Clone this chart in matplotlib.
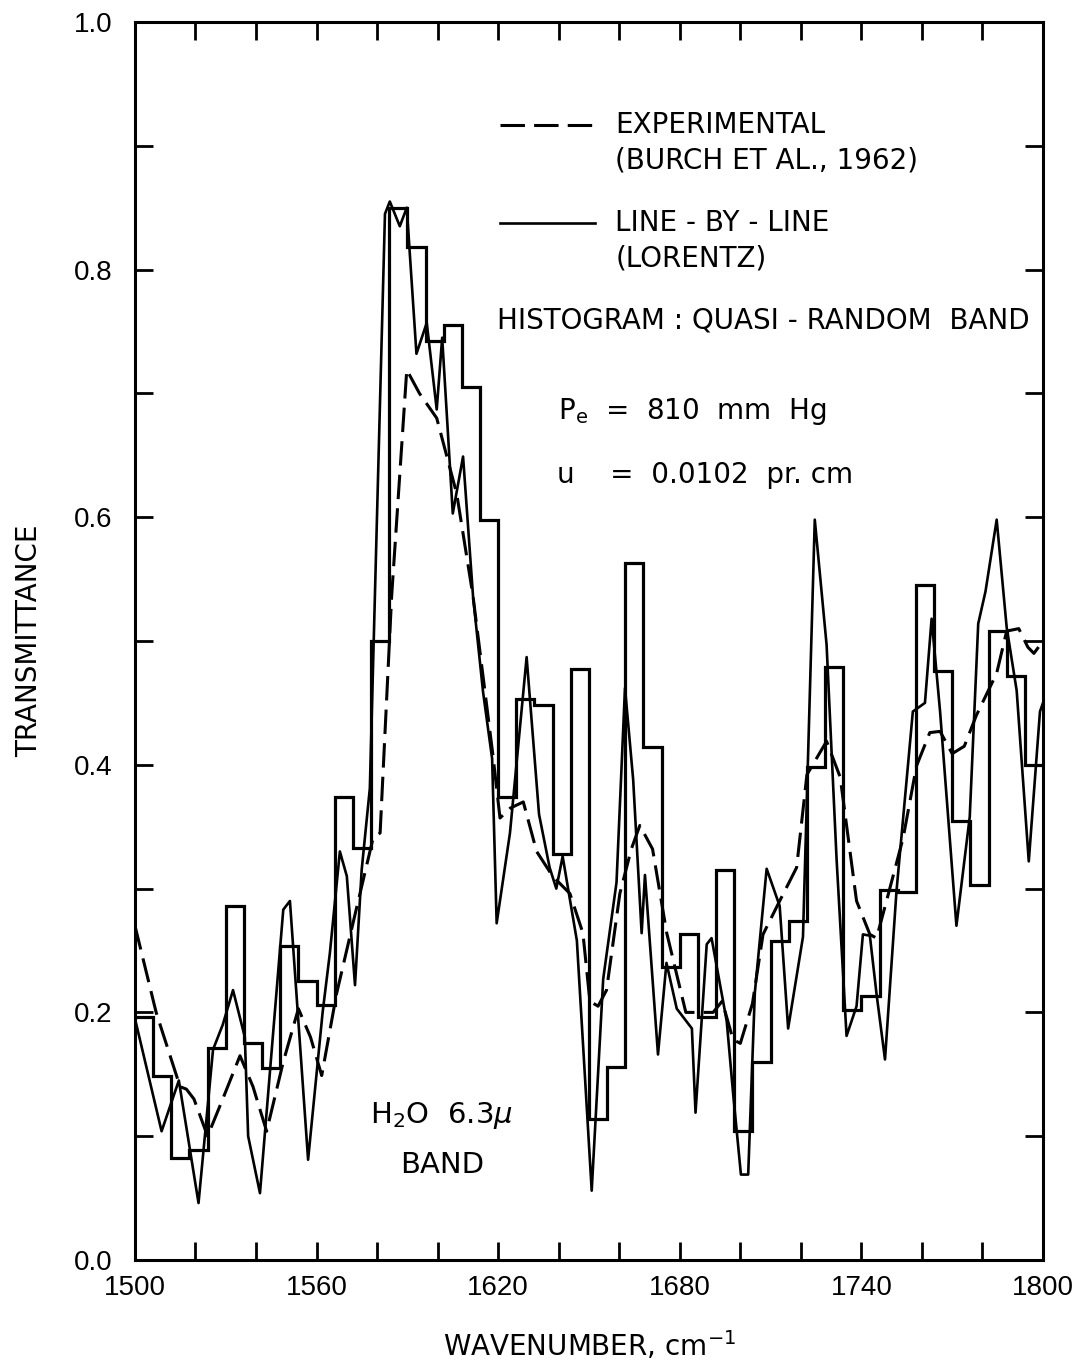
import numpy as np
import matplotlib
matplotlib.use("Agg")
import matplotlib.pyplot as plt

# histogram: quasi-random band model, 6 cm-1 intervals
hist_edges = np.arange(1500, 1801, 6)
hist_vals = [0.196, 0.149, 0.082, 0.089, 0.171, 0.286, 0.175, 0.155, 0.254, 0.225,
             0.206, 0.374, 0.333, 0.500, 0.850, 0.818, 0.742, 0.755, 0.705, 0.598,
             0.374, 0.453, 0.448, 0.328, 0.477, 0.114, 0.156, 0.563, 0.414, 0.237,
             0.263, 0.196, 0.315, 0.104, 0.160, 0.258, 0.274, 0.398, 0.479, 0.202,
             0.213, 0.299, 0.297, 0.545, 0.476, 0.355, 0.303, 0.508, 0.472, 0.400]

# line-by-line (Lorentz)
lbl_x = [1500, 1508.8, 1514.5, 1521, 1525.8, 1529, 1532.4, 1536.3, 1537.4, 1541.3,
         1549, 1551.2, 1557.2, 1562, 1564.4, 1567.7, 1570, 1572.7, 1574.9, 1577.6,
         1582.6, 1584.2, 1587.5, 1589.8, 1593, 1596.4, 1599.7, 1601.5, 1605, 1608.4,
         1611.7, 1615, 1618, 1619.5, 1623.9, 1629.4, 1633.5, 1637, 1639.2, 1641.3,
         1646, 1650.9, 1654.7, 1659.1, 1661.9, 1664.6, 1667.4, 1668.5, 1672.8, 1675.6,
         1679, 1684, 1685.2, 1688.9, 1690.5, 1695.5, 1697.6, 1700.2, 1702.6, 1704.8,
         1708.7, 1713, 1715.8, 1720.7, 1722.3, 1724.6, 1728.5, 1731.8, 1735.1, 1738.4,
         1740.5, 1742.8, 1745, 1747.8, 1751.6, 1757, 1761, 1763.2, 1766, 1771.4,
         1775.8, 1778.6, 1781, 1784.7, 1788, 1791.3, 1795.3, 1799, 1800]
lbl_y = [0.195, 0.104, 0.145, 0.046, 0.17, 0.19, 0.218, 0.18, 0.10, 0.054,
         0.283, 0.29, 0.081, 0.20, 0.248, 0.33, 0.31, 0.222, 0.315, 0.381,
         0.845, 0.855, 0.835, 0.85, 0.732, 0.757, 0.687, 0.745, 0.603, 0.649,
         0.536, 0.459, 0.405, 0.272, 0.345, 0.487, 0.36, 0.317, 0.30, 0.326,
         0.258, 0.056, 0.227, 0.305, 0.462, 0.388, 0.264, 0.311, 0.166, 0.24,
         0.203, 0.187, 0.119, 0.255, 0.26, 0.193, 0.135, 0.069, 0.069, 0.216,
         0.316, 0.286, 0.187, 0.261, 0.40, 0.598, 0.497, 0.324, 0.181, 0.205,
         0.263, 0.262, 0.215, 0.162, 0.298, 0.443, 0.45, 0.518, 0.443, 0.27,
         0.358, 0.514, 0.54, 0.598, 0.511, 0.46, 0.322, 0.443, 0.45]

# experimental (Burch et al., 1962)
exp_x = [1500, 1507, 1514.9, 1517, 1519.5, 1524, 1529, 1534.7, 1539, 1543.5,
         1549, 1554, 1558, 1561.7, 1566.6, 1572.7, 1578.6, 1581, 1584.8, 1589.8,
         1594, 1599.7, 1606.3, 1611.7, 1618.3, 1620.6, 1624, 1628.3, 1632.7, 1638,
         1643.7, 1648, 1650.3, 1653, 1655.8, 1660.2, 1664, 1666.8, 1671, 1675.7,
         1682, 1691, 1694, 1697.6, 1700, 1704, 1707.5, 1713, 1718.6, 1722,
         1728.5, 1733, 1738.4, 1742.8, 1745, 1748.3, 1753.8, 1758.2, 1762.6, 1766,
         1770, 1774, 1778, 1784.7, 1788, 1792, 1795, 1797, 1800]
exp_y = [0.27, 0.20, 0.14, 0.138, 0.13, 0.10, 0.13, 0.165, 0.14, 0.104,
         0.16, 0.203, 0.18, 0.149, 0.215, 0.279, 0.34, 0.345, 0.536, 0.719,
         0.70, 0.68, 0.619, 0.536, 0.407, 0.357, 0.365, 0.37, 0.33, 0.31,
         0.296, 0.264, 0.209, 0.205, 0.218, 0.296, 0.332, 0.351, 0.332, 0.264,
         0.20, 0.20, 0.209, 0.178, 0.175, 0.207, 0.263, 0.29, 0.317, 0.392,
         0.419, 0.39, 0.29, 0.263, 0.26, 0.29, 0.341, 0.399, 0.426, 0.427,
         0.409, 0.415, 0.44, 0.474, 0.508, 0.51, 0.495, 0.49, 0.50]

x_ticks = np.arange(1500, 1801, 20)
y_ticks = np.arange(0, 1.01, 0.1)

plt.rcParams['font.family'] = ['DejaVu Sans']
fig = plt.figure(figsize=(10.91, 13.66), dpi=100)
ax = fig.add_axes([0.1237, 0.0776, 0.8323, 0.9063])

ax.stairs(hist_vals, hist_edges, baseline=None, color='black', lw=2.3)
ax.plot(lbl_x, lbl_y, color='black', lw=1.9)
ax.plot(exp_x, exp_y, color='black', lw=2.2, dashes=(8, 3))

ax.set_xlim(1500, 1800)
ax.set_ylim(0, 1.0)
ax.set_xticks(x_ticks)
ax.set_xticklabels([str(v) if (v - 1500) % 60 == 0 else '' for v in x_ticks])
ax.set_yticks(y_ticks)
ax.set_yticklabels(['%.1f' % v if round(v * 10) % 2 == 0 else '' for v in y_ticks])
ax.tick_params(direction='in', length=13, width=2, top=True, right=True,
               labelsize=20)
ax.tick_params(axis='x', pad=11)
ax.tick_params(axis='y', pad=16)
for lab in ax.get_xticklabels() + ax.get_yticklabels():
    lab.set_family('Liberation Sans')
for s in ax.spines.values():
    s.set_linewidth(2.2)

ax.set_xlabel('WAVENUMBER, cm$^{-1}$', fontsize=20, labelpad=20)
ax.set_ylabel('TRANSMITTANCE', fontsize=20, labelpad=22)

# legend / annotations
ax.plot([0.402, 0.507], [0.917, 0.917], transform=ax.transAxes,
        color='black', lw=2.2, dashes=(8, 3))
ax.text(0.529, 0.917, 'EXPERIMENTAL', transform=ax.transAxes, fontsize=20, va='center')
ax.text(0.529, 0.888, '(BURCH ET AL., 1962)', transform=ax.transAxes, fontsize=20, va='center')
ax.plot([0.402, 0.507], [0.8376, 0.8376], transform=ax.transAxes, color='black', lw=1.9)
ax.text(0.529, 0.8376, 'LINE - BY - LINE', transform=ax.transAxes, fontsize=20, va='center')
ax.text(0.529, 0.809, '(LORENTZ)', transform=ax.transAxes, fontsize=20, va='center')
ax.text(0.399, 0.759, 'HISTOGRAM : QUASI - RANDOM  BAND', transform=ax.transAxes,
        fontsize=20, va='center')
ax.text(0.466, 0.685, '$\\mathregular{P_e}$  =  810  mm  Hg', transform=ax.transAxes,
        fontsize=20, va='center')
ax.text(0.465, 0.634, 'u    =  0.0102  pr. cm', transform=ax.transAxes,
        fontsize=20, va='center')
ax.text(0.259, 0.117, '$\\mathregular{H_2O}$  6.3$\\mu$', transform=ax.transAxes,
        fontsize=21, va='center')
ax.text(0.338, 0.077, 'BAND', transform=ax.transAxes, fontsize=21, va='center', ha='center')

fig.savefig('out.png', dpi=100)
